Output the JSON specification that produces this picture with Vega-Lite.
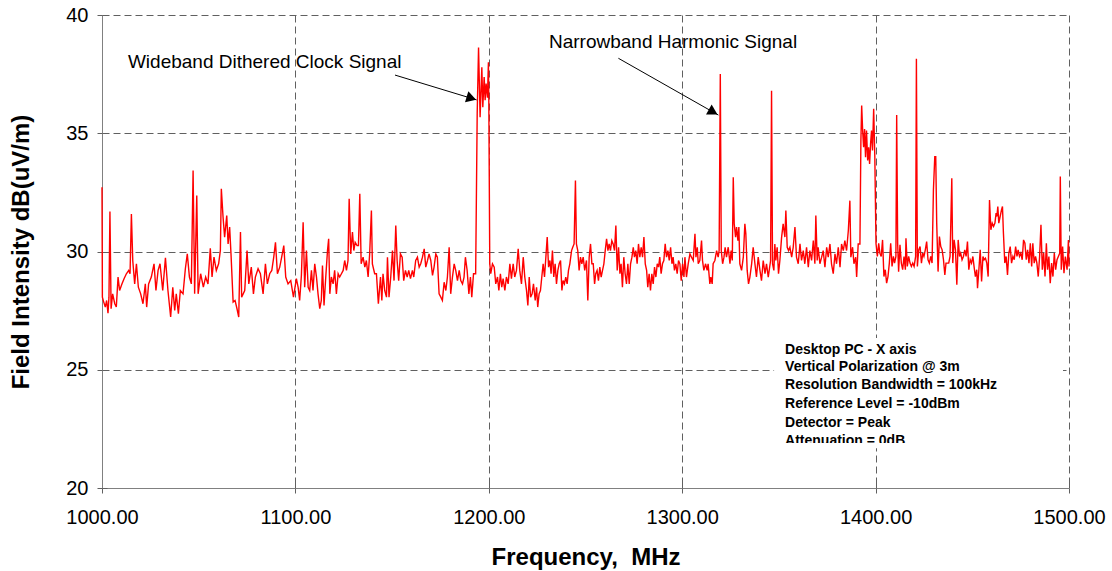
{
  "$schema": "https://vega.github.io/schema/vega-lite/v6.json",
  "width": 967,
  "height": 473,
  "autosize": {"type": "none"},
  "padding": {"left": 102, "top": 15, "right": 43, "bottom": 83},
  "background": "white",
  "config": {
    "view": {"stroke": null},
    "font": "Liberation Sans",
    "axis": {
      "labelFont": "Liberation Sans",
      "labelFontSize": 20,
      "labelColor": "#000000",
      "labelFlush": false,
      "labelOverlap": false,
      "titleFont": "Liberation Sans",
      "titleFontSize": 24,
      "titleFontWeight": "bold",
      "titleColor": "#000000",
      "grid": true,
      "gridColor": "#606060",
      "gridDash": [7, 4],
      "gridWidth": 1,
      "domainColor": "#808080",
      "domainWidth": 1,
      "tickColor": "#606060",
      "tickSize": 5,
      "tickWidth": 1
    }
  },
  "datasets": {
    "spectrum": [
      {"f":1000.0,"v":32.72},{"f":1000.2,"v":28.07},{"f":1000.9,"v":27.86},{"f":1001.7,"v":27.65},{"f":1002.4,"v":27.93},{"f":1003.1,"v":27.39},{"f":1003.6,"v":28.07},{"f":1004.1,"v":31.69},{"f":1004.7,"v":27.58},{"f":1005.5,"v":28.21},{"f":1006.6,"v":27.79},{"f":1007.4,"v":27.65},{"f":1008.3,"v":28.92},{"f":1009.1,"v":28.35},{"f":1010.3,"v":28.63},{"f":1011.4,"v":28.85},{"f":1012.6,"v":29.06},{"f":1013.8,"v":29.2},{"f":1014.5,"v":29.06},{"f":1015.2,"v":31.59},{"f":1015.9,"v":29.62},{"f":1016.9,"v":28.63},{"f":1017.8,"v":29.48},{"f":1018.8,"v":28.49},{"f":1020.0,"v":28.21},{"f":1021.2,"v":27.79},{"f":1022.4,"v":28.63},{"f":1023.1,"v":27.65},{"f":1024.1,"v":28.63},{"f":1025.5,"v":28.92},{"f":1026.9,"v":29.48},{"f":1027.9,"v":28.35},{"f":1029.0,"v":29.2},{"f":1030.0,"v":29.48},{"f":1031.4,"v":28.35},{"f":1032.8,"v":29.73},{"f":1034.1,"v":28.35},{"f":1035.5,"v":27.23},{"f":1036.6,"v":28.49},{"f":1037.6,"v":27.51},{"f":1038.4,"v":28.21},{"f":1039.5,"v":27.37},{"f":1040.5,"v":28.35},{"f":1041.9,"v":28.21},{"f":1043.1,"v":29.27},{"f":1044.1,"v":29.9},{"f":1045.2,"v":28.92},{"f":1046.2,"v":28.63},{"f":1047.1,"v":33.42},{"f":1047.9,"v":28.21},{"f":1049.0,"v":32.37},{"f":1049.7,"v":28.21},{"f":1051.0,"v":29.06},{"f":1052.4,"v":28.49},{"f":1053.6,"v":28.92},{"f":1054.8,"v":28.63},{"f":1056.0,"v":30.14},{"f":1056.9,"v":28.92},{"f":1057.9,"v":29.76},{"f":1059.1,"v":29.2},{"f":1060.3,"v":29.48},{"f":1061.2,"v":30.04},{"f":1061.7,"v":32.65},{"f":1062.6,"v":31.45},{"f":1063.4,"v":30.61},{"f":1064.5,"v":31.52},{"f":1065.2,"v":30.32},{"f":1066.0,"v":31.03},{"f":1066.7,"v":29.9},{"f":1067.8,"v":27.86},{"f":1068.8,"v":27.93},{"f":1069.8,"v":27.58},{"f":1070.7,"v":27.23},{"f":1071.6,"v":30.82},{"f":1072.2,"v":28.07},{"f":1073.8,"v":28.35},{"f":1075.0,"v":30.04},{"f":1075.9,"v":28.63},{"f":1077.2,"v":29.34},{"f":1078.3,"v":28.21},{"f":1079.3,"v":28.92},{"f":1080.7,"v":29.27},{"f":1081.9,"v":29.06},{"f":1083.3,"v":28.21},{"f":1084.5,"v":29.48},{"f":1085.5,"v":28.63},{"f":1086.7,"v":29.06},{"f":1087.8,"v":29.2},{"f":1088.8,"v":29.76},{"f":1089.7,"v":30.39},{"f":1090.7,"v":29.06},{"f":1091.9,"v":29.34},{"f":1092.9,"v":29.76},{"f":1094.0,"v":30.25},{"f":1095.0,"v":28.92},{"f":1096.2,"v":28.63},{"f":1097.6,"v":28.77},{"f":1099.0,"v":28.07},
      {"f":1100.5,"v":28.85},{"f":1101.4,"v":28.49},{"f":1102.2,"v":27.93},{"f":1103.1,"v":28.99},{"f":1104.0,"v":31.24},{"f":1104.8,"v":28.49},{"f":1105.7,"v":30.04},{"f":1106.6,"v":28.49},{"f":1107.4,"v":28.35},{"f":1108.3,"v":29.2},{"f":1109.1,"v":28.35},{"f":1110.0,"v":29.48},{"f":1110.9,"v":28.92},{"f":1111.7,"v":28.21},{"f":1112.6,"v":27.58},{"f":1113.4,"v":27.93},{"f":1114.0,"v":29.41},{"f":1114.8,"v":27.72},{"f":1115.7,"v":28.92},{"f":1116.6,"v":30.04},{"f":1117.2,"v":30.54},{"f":1117.8,"v":28.21},{"f":1118.6,"v":28.92},{"f":1119.5,"v":28.63},{"f":1120.3,"v":29.2},{"f":1121.2,"v":28.21},{"f":1122.1,"v":29.06},{"f":1122.9,"v":28.92},{"f":1123.8,"v":29.06},{"f":1124.7,"v":29.2},{"f":1125.5,"v":29.62},{"f":1126.4,"v":29.2},{"f":1127.2,"v":29.62},{"f":1127.8,"v":32.23},{"f":1128.6,"v":29.9},{"f":1129.5,"v":30.82},{"f":1130.2,"v":30.04},{"f":1130.9,"v":30.39},{"f":1131.9,"v":30.25},{"f":1132.6,"v":30.25},{"f":1133.3,"v":32.44},{"f":1134.0,"v":29.48},{"f":1135.0,"v":29.76},{"f":1135.9,"v":29.34},{"f":1136.7,"v":29.62},{"f":1137.6,"v":28.92},{"f":1138.4,"v":29.9},{"f":1139.3,"v":31.73},{"f":1139.8,"v":29.48},{"f":1141.0,"v":29.06},{"f":1141.9,"v":29.06},{"f":1142.9,"v":27.79},{"f":1144.0,"v":28.92},{"f":1144.7,"v":27.93},{"f":1145.3,"v":29.06},{"f":1146.2,"v":28.35},{"f":1147.1,"v":28.07},{"f":1147.6,"v":29.76},{"f":1148.4,"v":28.07},{"f":1149.3,"v":28.92},{"f":1150.2,"v":30.04},{"f":1151.0,"v":28.77},{"f":1151.9,"v":31.1},{"f":1152.6,"v":29.62},{"f":1153.4,"v":28.77},{"f":1154.3,"v":29.9},{"f":1155.2,"v":29.76},{"f":1156.0,"v":28.77},{"f":1156.9,"v":29.2},{"f":1157.8,"v":28.92},{"f":1158.6,"v":29.2},{"f":1159.5,"v":28.85},{"f":1160.5,"v":29.2},{"f":1161.2,"v":28.92},{"f":1162.2,"v":29.62},{"f":1163.1,"v":29.76},{"f":1164.0,"v":29.34},{"f":1164.8,"v":29.48},{"f":1165.7,"v":29.76},{"f":1166.6,"v":30.11},{"f":1167.4,"v":29.34},{"f":1168.3,"v":29.62},{"f":1169.1,"v":29.9},{"f":1170.0,"v":29.62},{"f":1170.9,"v":28.99},{"f":1171.7,"v":29.34},{"f":1172.6,"v":29.9},{"f":1173.4,"v":29.76},{"f":1174.3,"v":28.21},{"f":1175.2,"v":28.07},{"f":1176.0,"v":27.93},{"f":1176.9,"v":28.7},{"f":1177.8,"v":28.35},{"f":1178.6,"v":28.92},{"f":1179.5,"v":30.18},{"f":1180.3,"v":28.21},{"f":1181.2,"v":28.92},{"f":1182.1,"v":29.48},{"f":1182.9,"v":29.2},{"f":1183.8,"v":28.77},{"f":1184.7,"v":29.2},{"f":1185.5,"v":28.77},{"f":1186.4,"v":28.63},{"f":1187.2,"v":28.92},{"f":1187.9,"v":29.76},{"f":1188.8,"v":29.2},{"f":1189.7,"v":28.21},{"f":1190.5,"v":28.92},{"f":1191.2,"v":28.07},{"f":1192.1,"v":29.06},{"f":1192.9,"v":29.06},
      {"f":1193.2,"v":29.06},{"f":1194.0,"v":35.82},{"f":1194.7,"v":38.63},{"f":1195.5,"v":35.68},{"f":1196.4,"v":37.79},{"f":1196.9,"v":36.1},{"f":1197.6,"v":37.38},{"f":1198.1,"v":36.4},{"f":1198.6,"v":37.1},{"f":1199.3,"v":36.5},{"f":1199.8,"v":38.0},{"f":1200.0,"v":36.5},{"f":1200.5,"v":29.48},{"f":1201.0,"v":29.06},{"f":1201.9,"v":29.48},{"f":1202.8,"v":29.34},{"f":1203.6,"v":28.63},{"f":1204.5,"v":28.92},{"f":1205.2,"v":28.35},{"f":1206.0,"v":29.06},{"f":1206.7,"v":28.49},{"f":1207.4,"v":28.85},{"f":1208.3,"v":28.35},{"f":1209.1,"v":28.92},{"f":1210.0,"v":28.63},{"f":1210.9,"v":29.48},{"f":1211.7,"v":28.85},{"f":1212.6,"v":29.48},{"f":1213.4,"v":28.92},{"f":1214.3,"v":29.2},{"f":1215.2,"v":30.11},{"f":1216.0,"v":29.2},{"f":1216.9,"v":28.63},{"f":1217.8,"v":29.76},{"f":1218.6,"v":28.92},{"f":1219.5,"v":28.35},{"f":1220.2,"v":27.72},{"f":1220.9,"v":28.92},{"f":1221.6,"v":28.07},{"f":1222.4,"v":28.21},{"f":1223.1,"v":28.63},{"f":1224.0,"v":27.93},{"f":1224.7,"v":28.49},{"f":1225.3,"v":27.65},{"f":1226.0,"v":28.21},{"f":1226.7,"v":28.35},{"f":1227.4,"v":28.92},{"f":1228.1,"v":29.48},{"f":1228.8,"v":28.92},{"f":1229.5,"v":29.76},{"f":1230.2,"v":30.61},{"f":1230.9,"v":29.34},{"f":1231.6,"v":29.62},{"f":1232.2,"v":29.06},{"f":1232.9,"v":30.04},{"f":1233.6,"v":28.92},{"f":1234.3,"v":29.48},{"f":1235.0,"v":28.63},{"f":1235.7,"v":29.2},{"f":1236.4,"v":29.48},{"f":1237.1,"v":29.62},{"f":1237.8,"v":28.35},{"f":1238.4,"v":28.77},{"f":1239.1,"v":28.63},{"f":1239.8,"v":28.92},{"f":1240.5,"v":28.63},{"f":1241.2,"v":29.2},{"f":1241.9,"v":29.48},{"f":1242.8,"v":30.04},{"f":1243.4,"v":30.18},{"f":1244.1,"v":30.32},{"f":1244.8,"v":33.0},{"f":1245.3,"v":30.32},{"f":1246.0,"v":30.04},{"f":1246.7,"v":29.2},{"f":1247.4,"v":29.76},{"f":1248.1,"v":29.48},{"f":1248.8,"v":29.76},{"f":1249.6,"v":29.2},{"f":1250.5,"v":29.62},{"f":1251.2,"v":27.93},{"f":1251.9,"v":29.76},{"f":1252.6,"v":30.32},{"f":1253.3,"v":29.48},{"f":1254.0,"v":29.48},{"f":1254.7,"v":28.63},{"f":1255.3,"v":29.06},{"f":1256.0,"v":29.2},{"f":1256.7,"v":28.77},{"f":1257.4,"v":29.34},{"f":1258.1,"v":28.92},{"f":1258.8,"v":29.2},{"f":1259.5,"v":29.48},{"f":1260.2,"v":30.04},{"f":1260.9,"v":30.54},{"f":1261.6,"v":30.04},{"f":1262.2,"v":30.32},{"f":1262.9,"v":30.04},{"f":1263.6,"v":30.46},{"f":1264.3,"v":30.32},{"f":1265.0,"v":30.04},{"f":1265.7,"v":31.1},{"f":1266.4,"v":29.2},{"f":1267.1,"v":30.18},{"f":1267.8,"v":29.06},{"f":1268.4,"v":29.48},{"f":1269.1,"v":28.49},{"f":1269.8,"v":29.76},{"f":1270.5,"v":29.06},{"f":1271.2,"v":28.63},{"f":1271.9,"v":29.48},{"f":1272.6,"v":28.63},{"f":1273.3,"v":29.48},{"f":1274.0,"v":29.76},{"f":1274.7,"v":30.18},{"f":1275.3,"v":29.76},{"f":1276.0,"v":30.04},{"f":1276.7,"v":29.48},{"f":1277.4,"v":30.32},{"f":1278.1,"v":29.76},{"f":1278.8,"v":30.18},{"f":1279.5,"v":29.76},{"f":1280.2,"v":30.61},{"f":1280.9,"v":29.48},{"f":1281.6,"v":29.2},{"f":1282.2,"v":28.49},{"f":1282.9,"v":29.06},{"f":1283.6,"v":28.35},{"f":1284.3,"v":29.06},{"f":1285.0,"v":28.63},{"f":1285.7,"v":29.34},{"f":1286.4,"v":28.92},{"f":1287.1,"v":29.48},{"f":1287.8,"v":29.34},{"f":1288.4,"v":29.76},{"f":1289.1,"v":29.06},{"f":1289.8,"v":29.48},{"f":1290.5,"v":29.62},{"f":1291.2,"v":30.32},{"f":1291.9,"v":29.76},{"f":1292.6,"v":30.04},{"f":1293.3,"v":29.62},{"f":1294.0,"v":30.18},{"f":1294.7,"v":29.48},{"f":1295.3,"v":29.76},{"f":1296.0,"v":29.2},{"f":1296.7,"v":29.48},{"f":1297.4,"v":29.06},{"f":1298.1,"v":29.62},{"f":1298.8,"v":29.48},{"f":1299.5,"v":28.77},{"f":1300.2,"v":29.48},
      {"f":1300.9,"v":28.92},{"f":1301.4,"v":29.76},{"f":1302.2,"v":28.92},{"f":1303.1,"v":29.48},{"f":1304.0,"v":29.9},{"f":1304.8,"v":29.76},{"f":1305.7,"v":29.62},{"f":1306.6,"v":30.75},{"f":1307.1,"v":29.76},{"f":1307.8,"v":30.18},{"f":1308.3,"v":29.48},{"f":1309.1,"v":29.62},{"f":1310.0,"v":30.46},{"f":1310.5,"v":29.62},{"f":1311.2,"v":29.2},{"f":1312.1,"v":29.48},{"f":1312.9,"v":29.2},{"f":1313.4,"v":29.48},{"f":1314.3,"v":28.63},{"f":1314.8,"v":28.92},{"f":1315.5,"v":28.63},{"f":1316.0,"v":29.48},{"f":1316.9,"v":29.62},{"f":1317.8,"v":30.04},{"f":1318.6,"v":29.76},{"f":1319.1,"v":30.04},{"f":1319.7,"v":37.51},{"f":1320.2,"v":30.04},{"f":1320.9,"v":29.48},{"f":1321.6,"v":29.76},{"f":1322.2,"v":30.18},{"f":1322.9,"v":29.76},{"f":1323.8,"v":30.18},{"f":1324.7,"v":29.48},{"f":1325.3,"v":30.04},{"f":1325.9,"v":29.62},{"f":1326.4,"v":33.14},{"f":1326.9,"v":31.17},{"f":1327.6,"v":30.61},{"f":1328.1,"v":31.03},{"f":1328.8,"v":30.46},{"f":1329.3,"v":31.03},{"f":1329.8,"v":29.48},{"f":1330.7,"v":29.2},{"f":1331.6,"v":29.76},{"f":1332.4,"v":31.17},{"f":1332.9,"v":30.75},{"f":1333.6,"v":29.2},{"f":1334.3,"v":28.63},{"f":1335.0,"v":28.92},{"f":1335.9,"v":29.48},{"f":1336.7,"v":30.18},{"f":1337.6,"v":29.48},{"f":1338.4,"v":28.92},{"f":1339.3,"v":29.76},{"f":1340.2,"v":29.2},{"f":1341.0,"v":28.77},{"f":1341.9,"v":29.62},{"f":1342.8,"v":29.06},{"f":1343.6,"v":29.48},{"f":1344.5,"v":28.92},{"f":1345.7,"v":29.62},{"f":1346.2,"v":36.8},{"f":1346.7,"v":29.48},{"f":1347.4,"v":29.2},{"f":1347.9,"v":30.32},{"f":1348.4,"v":29.62},{"f":1349.1,"v":30.18},{"f":1349.8,"v":29.06},{"f":1350.5,"v":29.62},{"f":1351.4,"v":30.61},{"f":1352.2,"v":31.17},{"f":1353.1,"v":30.61},{"f":1353.6,"v":31.73},{"f":1354.3,"v":30.18},{"f":1355.0,"v":30.04},{"f":1355.7,"v":30.18},{"f":1356.6,"v":29.76},{"f":1357.4,"v":30.18},{"f":1358.3,"v":31.03},{"f":1359.1,"v":29.76},{"f":1360.0,"v":29.48},{"f":1360.9,"v":30.32},{"f":1361.7,"v":29.62},{"f":1362.6,"v":30.04},{"f":1363.4,"v":29.48},{"f":1364.3,"v":30.18},{"f":1365.2,"v":29.34},{"f":1366.0,"v":30.04},{"f":1366.9,"v":29.62},{"f":1367.8,"v":30.46},{"f":1368.6,"v":29.48},{"f":1369.1,"v":31.52},{"f":1369.8,"v":29.62},{"f":1370.3,"v":30.18},{"f":1371.2,"v":29.48},{"f":1372.1,"v":29.76},{"f":1372.9,"v":30.04},{"f":1373.8,"v":29.34},{"f":1374.7,"v":30.18},{"f":1375.5,"v":29.76},{"f":1376.4,"v":30.32},{"f":1377.2,"v":29.48},{"f":1378.1,"v":29.06},{"f":1379.0,"v":29.9},{"f":1379.8,"v":29.48},{"f":1380.7,"v":30.18},{"f":1381.6,"v":29.34},{"f":1382.4,"v":30.32},{"f":1383.3,"v":30.04},{"f":1384.1,"v":30.46},{"f":1385.0,"v":30.04},{"f":1385.9,"v":30.89},{"f":1386.7,"v":32.15},{"f":1387.2,"v":29.76},{"f":1388.1,"v":30.18},{"f":1388.8,"v":29.48},{"f":1389.7,"v":29.76},{"f":1390.2,"v":28.92},{"f":1391.0,"v":30.32},{"f":1391.9,"v":30.32},{"f":1392.4,"v":34.69},{"f":1392.8,"v":36.17},{"f":1393.3,"v":35.11},{"f":1393.8,"v":34.41},{"f":1394.3,"v":35.18},{"f":1394.8,"v":33.99},{"f":1395.3,"v":35.11},{"f":1395.9,"v":33.85},{"f":1396.4,"v":34.41},{"f":1396.9,"v":33.7},{"f":1397.4,"v":34.55},{"f":1397.9,"v":35.11},{"f":1398.4,"v":34.27},{"f":1399.0,"v":36.03},{"f":1399.6,"v":34.0},
      {"f":1400.2,"v":30.35},{"f":1400.9,"v":29.79},{"f":1401.6,"v":30.35},{"f":1402.2,"v":29.93},{"f":1402.9,"v":29.79},{"f":1403.6,"v":30.49},{"f":1404.3,"v":28.94},{"f":1405.0,"v":29.23},{"f":1405.7,"v":28.66},{"f":1406.4,"v":28.94},{"f":1407.1,"v":29.51},{"f":1407.8,"v":30.35},{"f":1408.5,"v":29.37},{"f":1409.2,"v":29.79},{"f":1409.8,"v":29.51},{"f":1410.5,"v":29.79},{"f":1410.9,"v":35.77},{"f":1411.4,"v":30.35},{"f":1411.9,"v":29.15},{"f":1412.6,"v":30.28},{"f":1413.3,"v":29.51},{"f":1414.0,"v":29.23},{"f":1414.7,"v":29.79},{"f":1415.4,"v":29.23},{"f":1415.7,"v":30.56},{"f":1416.4,"v":29.37},{"f":1417.1,"v":29.79},{"f":1417.8,"v":29.51},{"f":1418.5,"v":29.37},{"f":1419.2,"v":29.51},{"f":1419.9,"v":29.37},{"f":1420.7,"v":29.79},{"f":1421.1,"v":38.15},{"f":1421.6,"v":29.37},{"f":1422.3,"v":30.07},{"f":1423.0,"v":30.21},{"f":1423.7,"v":29.51},{"f":1424.4,"v":29.93},{"f":1425.0,"v":29.79},{"f":1425.7,"v":30.07},{"f":1426.4,"v":30.42},{"f":1427.1,"v":29.65},{"f":1427.8,"v":29.51},{"f":1428.5,"v":29.79},{"f":1429.2,"v":29.51},{"f":1429.9,"v":32.61},{"f":1430.6,"v":34.01},{"f":1431.1,"v":34.01},{"f":1431.6,"v":31.2},{"f":1432.3,"v":29.15},{"f":1433.0,"v":30.63},{"f":1433.7,"v":30.21},{"f":1434.4,"v":30.07},{"f":1435.1,"v":29.65},{"f":1435.8,"v":29.01},{"f":1436.4,"v":29.51},{"f":1437.1,"v":29.51},{"f":1437.8,"v":29.51},{"f":1438.5,"v":29.79},{"f":1439.4,"v":33.1},{"f":1439.9,"v":29.51},{"f":1440.6,"v":30.49},{"f":1441.3,"v":30.07},{"f":1442.0,"v":28.59},{"f":1442.7,"v":30.49},{"f":1443.4,"v":29.79},{"f":1444.0,"v":29.93},{"f":1444.7,"v":29.65},{"f":1445.4,"v":29.79},{"f":1446.1,"v":30.07},{"f":1446.8,"v":29.79},{"f":1447.5,"v":30.42},{"f":1448.2,"v":29.23},{"f":1448.9,"v":29.65},{"f":1449.6,"v":29.51},{"f":1450.3,"v":29.79},{"f":1450.9,"v":29.37},{"f":1451.6,"v":28.94},{"f":1452.3,"v":29.23},{"f":1452.7,"v":28.45},{"f":1453.4,"v":29.23},{"f":1454.1,"v":30.07},{"f":1454.8,"v":28.73},{"f":1455.5,"v":29.79},{"f":1456.1,"v":29.65},{"f":1456.8,"v":29.72},{"f":1457.5,"v":29.51},{"f":1458.2,"v":28.94},{"f":1458.9,"v":32.18},{"f":1459.6,"v":30.92},{"f":1460.3,"v":31.2},{"f":1461.0,"v":31.06},{"f":1461.7,"v":31.2},{"f":1462.3,"v":31.62},{"f":1462.7,"v":31.48},{"f":1463.2,"v":31.9},{"f":1463.7,"v":31.2},{"f":1464.4,"v":31.48},{"f":1465.1,"v":31.76},{"f":1465.6,"v":31.9},{"f":1466.1,"v":30.77},{"f":1466.8,"v":29.51},{"f":1467.5,"v":29.79},{"f":1468.2,"v":29.01},{"f":1468.9,"v":29.93},{"f":1469.6,"v":30.21},{"f":1470.3,"v":29.51},{"f":1471.0,"v":29.79},{"f":1471.7,"v":29.65},{"f":1472.4,"v":30.21},{"f":1473.1,"v":29.79},{"f":1473.7,"v":30.07},{"f":1474.4,"v":29.79},{"f":1475.1,"v":29.93},{"f":1475.8,"v":29.65},{"f":1476.5,"v":30.49},{"f":1477.2,"v":30.35},{"f":1477.9,"v":29.65},{"f":1478.6,"v":30.07},{"f":1479.3,"v":29.51},{"f":1480.0,"v":30.35},{"f":1480.7,"v":29.37},{"f":1481.3,"v":30.35},{"f":1482.0,"v":29.51},{"f":1482.7,"v":29.79},{"f":1483.4,"v":29.51},{"f":1484.1,"v":28.94},{"f":1484.8,"v":29.79},{"f":1485.5,"v":31.13},{"f":1486.2,"v":29.23},{"f":1486.9,"v":29.93},{"f":1487.6,"v":28.94},{"f":1488.3,"v":30.35},{"f":1488.9,"v":29.23},{"f":1489.6,"v":29.79},{"f":1490.3,"v":28.66},{"f":1491.0,"v":29.51},{"f":1491.7,"v":28.94},{"f":1492.4,"v":29.93},{"f":1493.1,"v":29.23},{"f":1493.8,"v":29.65},{"f":1494.5,"v":29.79},{"f":1495.2,"v":29.93},{"f":1495.5,"v":33.17},{"f":1496.0,"v":29.23},{"f":1496.7,"v":30.21},{"f":1497.4,"v":29.08},{"f":1498.1,"v":29.79},{"f":1499.0,"v":29.23},{"f":1499.7,"v":30.49},{"f":1500.0,"v":29.37}
    ]
  },
  "layer": [
    {
      "layer": [
        {
          "data": {"values": [{"x1": 1347.5, "x2": 1496.9, "y1": 26.34, "y2": 21.82}]},
          "mark": {"type": "rect", "fill": "white", "stroke": null},
          "encoding": {
            "x": {"field": "x1", "type": "quantitative"},
            "x2": {"field": "x2"},
            "y": {"field": "y1", "type": "quantitative"},
            "y2": {"field": "y2"}
          }
        },
        {
          "data": {"name": "spectrum"},
          "mark": {"type": "line", "color": "#FF0000", "strokeWidth": 1.4, "interpolate": "linear"},
          "encoding": {
            "x": {
              "field": "f", "type": "quantitative",
              "scale": {"domain": [1000, 1500], "nice": false, "zero": false},
              "axis": {"values": [1000, 1100, 1200, 1300, 1400, 1500], "format": ".2f", "title": "Frequency,\u00a0 MHz", "labelPadding": 14, "titlePadding": 18}
            },
            "y": {
              "field": "v", "type": "quantitative",
              "scale": {"domain": [20, 40], "nice": false, "zero": false},
              "axis": {"values": [20, 25, 30, 35, 40], "title": "Field Intensity dB(uV/m)", "labelPadding": 9, "titlePadding": 32}
            }
          }
        },
        {
          "data": {"values": [
            {"x1": 1151.5, "y1": 37.46, "x2": 1193.7, "y2": 36.41},
            {"x1": 1267.0, "y1": 38.17, "x2": 1318.7, "y2": 35.77}
          ]},
          "mark": {"type": "rule", "color": "#000000", "strokeWidth": 1},
          "encoding": {
            "x": {"field": "x1", "type": "quantitative"},
            "y": {"field": "y1", "type": "quantitative"},
            "x2": {"field": "x2"},
            "y2": {"field": "y2"}
          }
        },
        {
          "data": {"values": [
            {"x": 1191.0, "y": 36.48, "a": 17},
            {"x": 1316.0, "y": 35.9, "a": 29.6}
          ]},
          "mark": {"type": "point", "shape": "triangle-right", "filled": true, "color": "#000000", "opacity": 1, "size": 130},
          "encoding": {
            "x": {"field": "x", "type": "quantitative"},
            "y": {"field": "y", "type": "quantitative"},
            "angle": {"field": "a", "type": "quantitative", "scale": null}
          }
        },
        {
          "data": {"values": [
            {"x": 1013.4, "y": 38.01, "t": "Wideband Dithered Clock Signal"},
            {"x": 1231.1, "y": 38.86, "t": "Narrowband Harmonic Signal"}
          ]},
          "mark": {"type": "text", "align": "left", "baseline": "middle", "font": "Liberation Sans", "fontSize": 19, "color": "#000000"},
          "encoding": {
            "x": {"field": "x", "type": "quantitative"},
            "y": {"field": "y", "type": "quantitative"},
            "text": {"field": "t"}
          }
        },
        {
          "data": {"values": [
            {"x": 1353.2, "y": 25.83, "t": "Desktop PC - X axis"},
            {"x": 1353.2, "y": 25.1, "t": "Vertical Polarization @ 3m"},
            {"x": 1353.2, "y": 24.34, "t": "Resolution Bandwidth = 100kHz"},
            {"x": 1353.2, "y": 23.55, "t": "Reference  Level = -10dBm"},
            {"x": 1353.2, "y": 22.76, "t": "Detector = Peak"},
            {"x": 1353.2, "y": 21.97, "t": "Attenuation = 0dB"}
          ]},
          "mark": {"type": "text", "align": "left", "baseline": "middle", "font": "Liberation Sans", "fontSize": 14, "fontWeight": "bold", "color": "#000000"},
          "encoding": {
            "x": {"field": "x", "type": "quantitative"},
            "y": {"field": "y", "type": "quantitative"},
            "text": {"field": "t"}
          }
        },
        {
          "data": {"values": [{"x1": 1350, "x2": 1420, "y1": 21.9, "y2": 21.68}]},
          "mark": {"type": "rect", "fill": "white", "stroke": null},
          "encoding": {
            "x": {"field": "x1", "type": "quantitative"},
            "x2": {"field": "x2"},
            "y": {"field": "y1", "type": "quantitative"},
            "y2": {"field": "y2"}
          }
        }
      ]
    },
    {
      "data": {"values": [{"f": 1000, "v": 20}]},
      "mark": {"type": "point", "opacity": 0},
      "encoding": {
        "x": {"field": "f", "type": "quantitative",
          "axis": {"orient": "bottom", "values": [1000, 1100, 1200, 1300, 1400, 1500], "tickSize": -5, "labels": false, "domain": false, "grid": false, "title": null}},
        "y": {"field": "v", "type": "quantitative",
          "axis": {"orient": "left", "values": [20, 25, 30, 35, 40], "tickSize": -5, "labels": false, "domain": false, "grid": false, "title": null}}
      }
    }
  ],
  "resolve": {"axis": {"x": "independent", "y": "independent"}}
}
